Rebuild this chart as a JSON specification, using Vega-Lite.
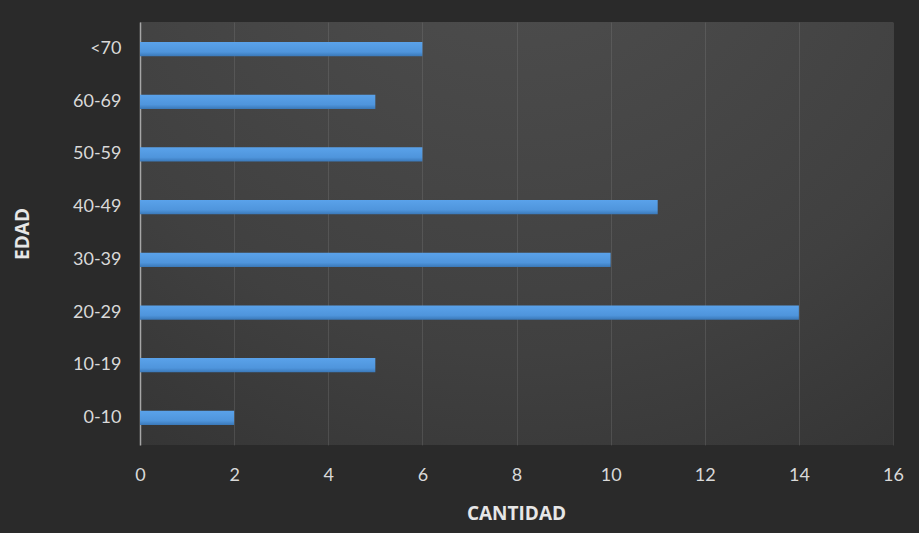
{
  "$schema": "https://vega.github.io/schema/vega-lite/v6.json",
  "autosize": {"type": "none"},
  "padding": {"left": 140, "top": 22, "right": 26, "bottom": 88},
  "width": 753,
  "height": 423,
  "background": "#2a2a2a",
  "data": {
    "values": [
      {"edad": "<70", "cantidad": 6},
      {"edad": "60-69", "cantidad": 5},
      {"edad": "50-59", "cantidad": 6},
      {"edad": "40-49", "cantidad": 11},
      {"edad": "30-39", "cantidad": 10},
      {"edad": "20-29", "cantidad": 14},
      {"edad": "10-19", "cantidad": 5},
      {"edad": "0-10", "cantidad": 2}
    ]
  },
  "mark": {
    "type": "bar",
    "color": {
      "gradient": "linear",
      "x1": 0, "y1": 0, "x2": 0, "y2": 1,
      "stops": [
        {"offset": 0, "color": "#5aa2ea"},
        {"offset": 0.7, "color": "#4f95dc"},
        {"offset": 1, "color": "#3a78b8"}
      ]
    }
  },
  "encoding": {
    "y": {
      "field": "edad",
      "type": "nominal",
      "sort": null,
      "scale": {"paddingInner": 0.73, "paddingOuter": 0.38},
      "axis": {
        "title": "EDAD",
        "titleAngle": -90,
        "titleX": -118,
        "titleY": 211.5,
        "titleAlign": "center",
        "titleBaseline": "middle",
        "titleColor": "#e6e6e6",
        "titleFont": "Open Sans",
        "titleFontSize": 19,
        "titleFontWeight": "bold",
        "labelColor": "#d9d9d9",
        "labelFont": "Lato",
        "labelFontSize": 18,
        "labelPadding": 19,
        "ticks": false,
        "domain": true,
        "domainColor": "#a6a6a6",
        "domainWidth": 1.5,
        "grid": false
      }
    },
    "x": {
      "field": "cantidad",
      "type": "quantitative",
      "scale": {"domain": [0, 16]},
      "axis": {
        "title": "CANTIDAD",
        "titleX": 376,
        "titleY": 68,
        "titleBaseline": "middle",
        "titleColor": "#e6e6e6",
        "titleFont": "Open Sans",
        "titleFontSize": 19,
        "titleFontWeight": "bold",
        "values": [0, 2, 4, 6, 8, 10, 12, 14, 16],
        "labelColor": "#d9d9d9",
        "labelFont": "Lato",
        "labelFontSize": 18,
        "labelPadding": 30,
        "labelBaseline": "middle",
        "labelFlush": false,
        "ticks": false,
        "domain": false,
        "grid": true,
        "gridColor": "#8a8a8a",
        "gridOpacity": 0.25,
        "gridWidth": 1
      }
    }
  },
  "config": {
    "view": {
      "stroke": null,
      "fill": {
        "gradient": "radial",
        "x1": 0.5, "y1": 0.0, "r1": 0,
        "x2": 0.5, "y2": 0.0, "r2": 1.1,
        "stops": [
          {"offset": 0, "color": "#505050"},
          {"offset": 0.6, "color": "#404040"},
          {"offset": 1, "color": "#2e2e2e"}
        ]
      }
    }
  }
}
